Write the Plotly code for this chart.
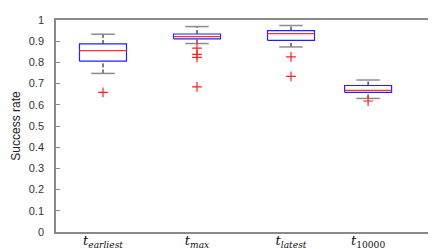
import plotly.graph_objects as go

# ---- data ----
categories = ["<i>t</i><sub><i>earliest</i></sub>", "<i>t</i><sub><i>max</i></sub>",
              "<i>t</i><sub><i>latest</i></sub>", "<i>t</i><sub>10000</sub>"]
positions = [1, 2, 3, 3.82]
q1 = [0.806, 0.911, 0.904, 0.659]
median = [0.856, 0.922, 0.936, 0.668]
q3 = [0.887, 0.934, 0.950, 0.691]
whisker_low = [0.748, 0.889, 0.873, 0.630]
whisker_high = [0.933, 0.969, 0.974, 0.717]
outliers = [[0.659], [0.867, 0.838, 0.824, 0.685], [0.826, 0.734], [0.618]]
y_ticks = [0, 0.1, 0.2, 0.3, 0.4, 0.5, 0.6, 0.7, 0.8, 0.9, 1]
y_ticklabels = ["0", "0.1", "0.2", "0.3", "0.4", "0.5", "0.6", "0.7", "0.8", "0.9", "1"]

BOX_HALF = 0.25
CAP_HALF = 0.125

fig = go.Figure()

# dashed whiskers
wx, wy = [], []
for p, lo, a, b, hi in zip(positions, whisker_low, q1, q3, whisker_high):
    wx += [p, p, None, p, p, None]
    wy += [lo, a, None, b, hi, None]
fig.add_trace(go.Scatter(x=wx, y=wy, mode="lines",
                         line=dict(color="black", width=1, dash="4px,2px"),
                         hoverinfo="skip", showlegend=False))

# caps
cx, cy = [], []
for p, lo, hi in zip(positions, whisker_low, whisker_high):
    cx += [p - CAP_HALF, p + CAP_HALF, None, p - CAP_HALF, p + CAP_HALF, None]
    cy += [lo, lo, None, hi, hi, None]
fig.add_trace(go.Scatter(x=cx, y=cy, mode="lines",
                         line=dict(color="#8c8c8c", width=1.5),
                         hoverinfo="skip", showlegend=False))

# boxes
bx, by = [], []
for p, a, b in zip(positions, q1, q3):
    bx += [p - BOX_HALF, p + BOX_HALF, p + BOX_HALF, p - BOX_HALF, p - BOX_HALF, None]
    by += [a, a, b, b, a, None]
fig.add_trace(go.Scatter(x=bx, y=by, mode="lines",
                         line=dict(color="#2020ff", width=1.2),
                         hoverinfo="skip", showlegend=False))

# medians
mx, my = [], []
for p, m in zip(positions, median):
    mx += [p - BOX_HALF, p + BOX_HALF, None]
    my += [m, m, None]
fig.add_trace(go.Scatter(x=mx, y=my, mode="lines",
                         line=dict(color="#ff3030", width=1.2),
                         hoverinfo="skip", showlegend=False))

# outliers
ox, oy = [], []
for p, outs in zip(positions, outliers):
    for o in outs:
        ox.append(p)
        oy.append(o)
fig.add_trace(go.Scatter(x=ox, y=oy, mode="markers",
                         marker=dict(symbol="cross-thin", size=7,
                                     line=dict(color="#ff2020", width=1.2)),
                         hoverinfo="skip", showlegend=False))

fig.update_layout(
    width=436, height=249,
    margin=dict(l=41, r=12, t=6, b=25),
    paper_bgcolor="white", plot_bgcolor="white",
    font=dict(family="Liberation Sans, Arial, sans-serif", size=11, color="#333333"),
    showlegend=False,
)
fig.update_xaxes(
    range=[0.5, 4.5], tickmode="array", tickvals=positions, ticktext=categories,
    tickfont=dict(family="DejaVu Serif, serif", size=13, color="#111111"),
    showgrid=False, zeroline=False, showline=True, linecolor="#8a8a8a", linewidth=1.5,
    mirror=True, ticks="", ticklabelstandoff=-4,
)
fig.update_yaxes(
    range=[0, 1], tickmode="array", tickvals=y_ticks, ticktext=y_ticklabels,
    showgrid=False, zeroline=False, showline=True, linecolor="#8a8a8a", linewidth=1.5,
    mirror="allticks", ticks="inside", ticklen=4, tickcolor="#8a8a8a",
    ticklabelstandoff=8,
    title=dict(text="Success rate", font=dict(size=12, color="#222222"), standoff=6),
)

fig.write_html("out.html")
